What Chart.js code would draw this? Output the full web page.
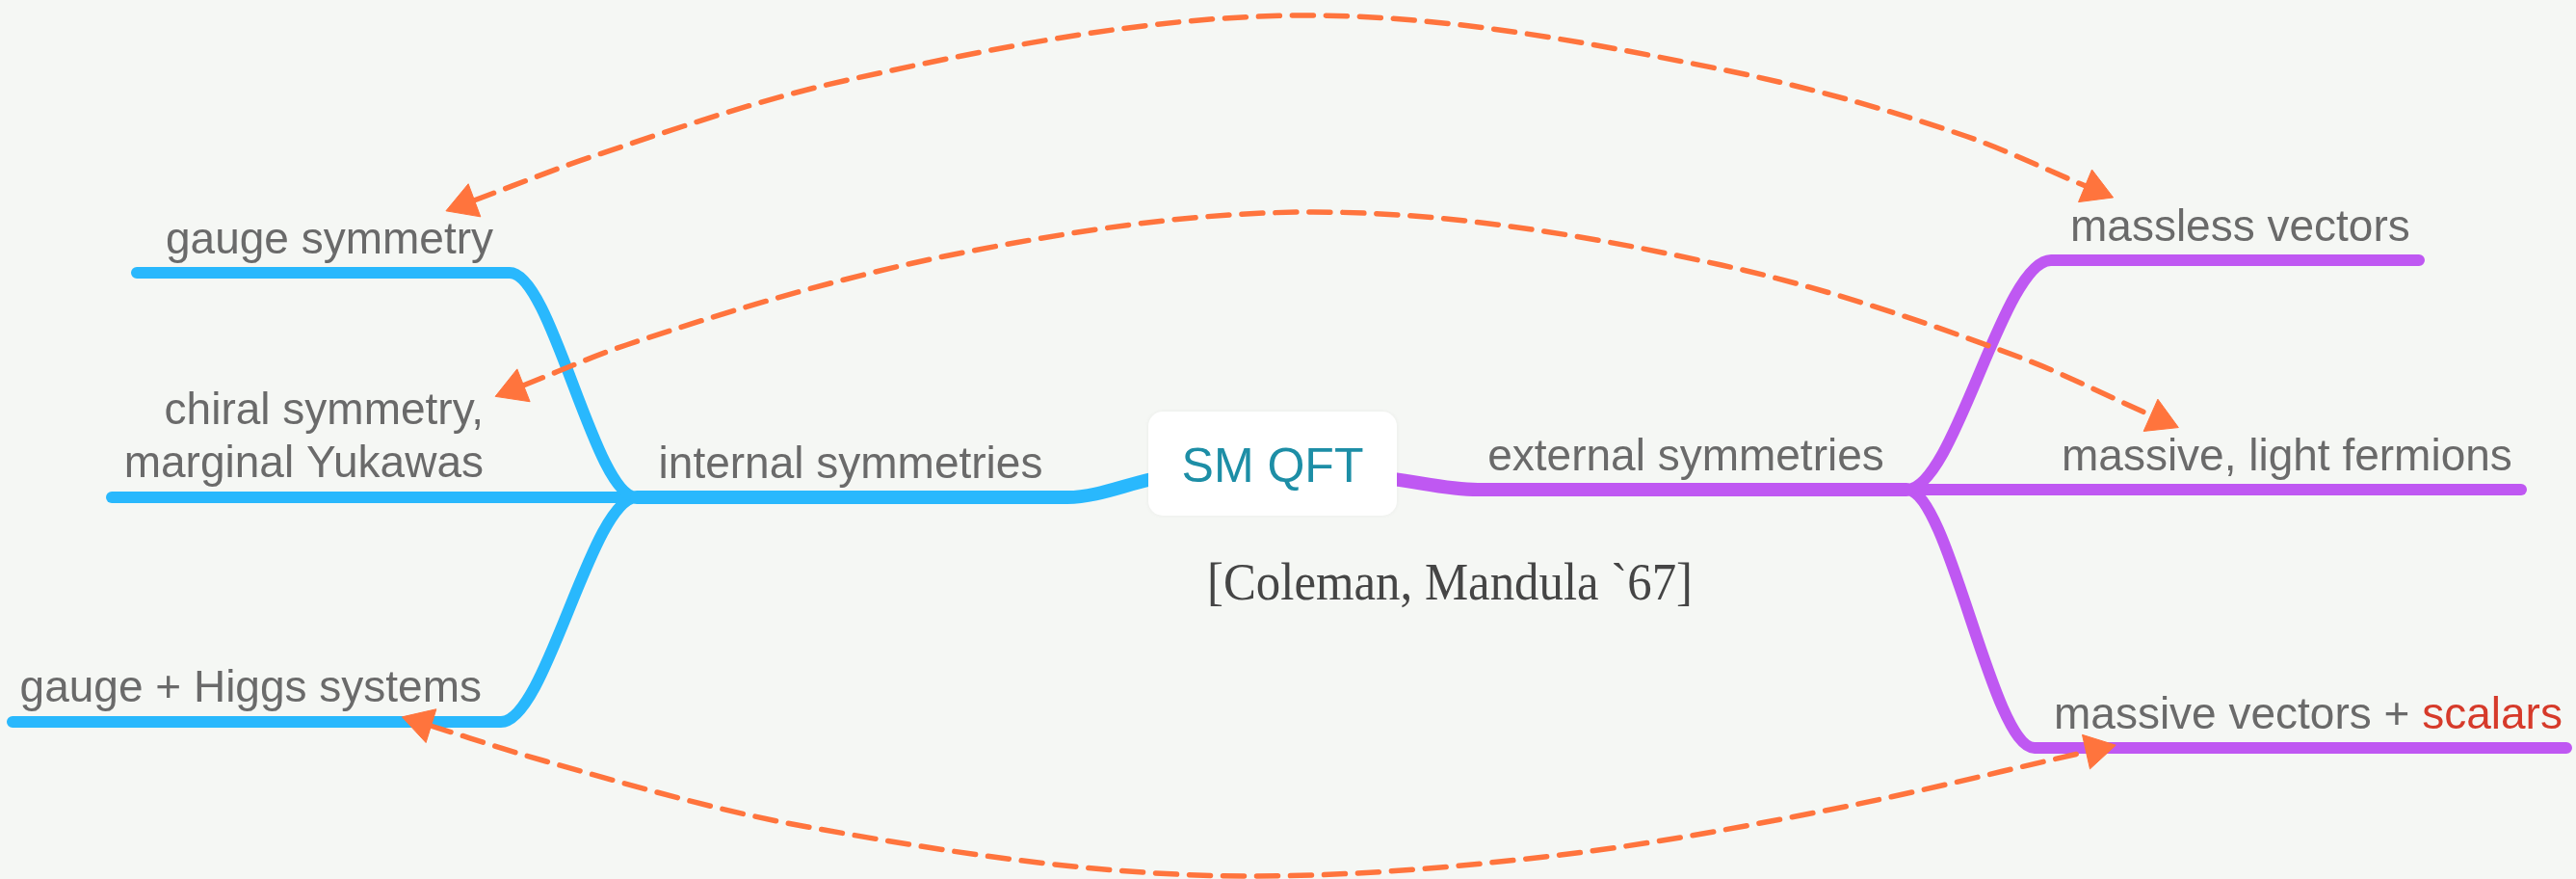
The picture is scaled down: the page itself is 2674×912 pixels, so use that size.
<!DOCTYPE html>
<html>
<head>
<meta charset="utf-8">
<script src="https://cdn.jsdelivr.net/npm/chart.js@4.4.0/dist/chart.umd.min.js"></script>
<style>
  html, body { margin: 0; padding: 0; background: #f5f7f4; overflow: hidden; }
  #wrap { width: 2674px; height: 912px; }
</style>
</head>
<body>
<div id="wrap"><canvas id="map" width="2674" height="912"></canvas></div>
<script>
// diagram units: 1 unit = 1 px, y grows downwards
var centreTopic = 'SM QFT';
var centreBox = [1192, 427, 1450, 535];
var citation = '[Coleman, Mandula `67]';
var citationAt = [1505, 622];

// main branches
var internalPath = [[661, 516], [1108, 516], [1196, 497]];
var externalPath = [[1446, 497], [1534, 508], [1979, 508]];

// sub topics (left: internal, right: external)
var gaugePath    = [[142, 283], [529, 283], [661, 516], [700, 516]];
var chiralPath   = [[116, 516], [661, 516]];
var higgsPath    = [[13, 749], [520, 749], [661, 516], [700, 516]];
var masslessPath = [[1940, 508], [1979, 508], [2129, 270], [2511, 270]];
var fermionPath  = [[1979, 508], [2617, 508]];
var massivePath  = [[1940, 508], [1979, 508], [2112, 776], [2664, 776]];

// topic titles, anchor point on the baseline
var titles  = ['internal symmetries', 'external symmetries', 'gauge symmetry', 'chiral symmetry,', 'marginal Yukawas',
               'gauge + Higgs systems', 'massless vectors', 'massive, light fermions', 'massive vectors + '];
var titleX  = [883, 1750, 512, 502, 502, 500, 2149, 2140, 2132];
var titleY  = [496, 488, 263, 440, 495, 728, 250, 488, 756];
var titleAl = ['center', 'center', 'right', 'right', 'right', 'right', 'left', 'left', 'left'];
var highlight = 'scalars';

// relationship arrows (dashed, heads at both ends)
var linkGaugeMassless = [[492, 208], [613, 163], [880, 83], [1357, 16], [1787, 72], [2040, 141], [2165, 193]];
var linkChiralFermion = [[543, 400], [650, 358], [1000, 262], [1363, 220], [1787, 275], [2100, 372], [2233, 431]];
var linkHiggsMassive  = [[447, 753], [567, 790], [833, 857], [1300, 909], [1620, 887], [1900, 840], [2166, 780]];

var BLUE = '#29b8fd', PURPLE = '#bf58f2', ORANGE = '#ff743d', GREY = '#6a6a6a', RED = '#d63a2a', TEAL = '#1d8ea6';

function pts(a) {
  return a.map(function (p) { return { x: p[0], y: p[1] }; });
}

function branch(path, color, w) {
  return {
    data: pts(path), showLine: true, borderColor: color, borderWidth: w,
    cubicInterpolationMode: 'monotone', borderCapStyle: 'round', borderJoinStyle: 'round',
    pointRadius: 0, fill: false
  };
}

function link(path) {
  return {
    data: pts(path), showLine: true, borderColor: ORANGE, borderWidth: 5.5,
    borderDash: [22, 13], borderCapStyle: 'round', cubicInterpolationMode: 'monotone',
    pointRadius: 0, fill: false
  };
}

// arrow heads sit just past each end, pointing along the last piece of the link
var heads = [];
function headAt(end, prev) {
  var dx = end[0] - prev[0], dy = end[1] - prev[1];
  var len = Math.hypot(dx, dy);
  heads.push({ x: end[0] + dx / len * 10, y: end[1] + dy / len * 10, rot: Math.atan2(dx, -dy) * 180 / Math.PI });
}
[linkGaugeMassless, linkChiralFermion, linkHiggsMassive].forEach(function (p) {
  headAt(p[0], p[1]);
  headAt(p[p.length - 1], p[p.length - 2]);
});

var mapText = {
  id: 'mapText',
  beforeDraw: function (chart) {
    var ctx = chart.ctx;
    ctx.save();
    ctx.fillStyle = '#f5f7f4';
    ctx.fillRect(0, 0, chart.width, chart.height);
    ctx.restore();
  },
  afterDatasetsDraw: function (chart) {
    var ctx = chart.ctx, sx = chart.scales.x, sy = chart.scales.y;
    ctx.save();

    // centre topic
    var x0 = sx.getPixelForValue(centreBox[0]), y0 = sy.getPixelForValue(centreBox[1]);
    var x1 = sx.getPixelForValue(centreBox[2]), y1 = sy.getPixelForValue(centreBox[3]);
    ctx.shadowColor = 'rgba(0,0,0,0.05)';
    ctx.shadowBlur = 4;
    ctx.fillStyle = '#ffffff';
    ctx.beginPath();
    ctx.roundRect(x0, y0, x1 - x0, y1 - y0, 15);
    ctx.fill();
    ctx.shadowBlur = 0;
    ctx.fillStyle = TEAL;
    ctx.font = '50px "Liberation Sans", Arial, sans-serif';
    ctx.textAlign = 'center';
    ctx.textBaseline = 'alphabetic';
    ctx.fillText(centreTopic, (x0 + x1) / 2, y0 + 73);

    // titles
    ctx.font = '46px "Liberation Sans", Arial, sans-serif';
    ctx.fillStyle = GREY;
    var lastEnd = 0;
    titles.forEach(function (t, i) {
      ctx.textAlign = titleAl[i];
      var px = sx.getPixelForValue(titleX[i]);
      ctx.fillText(t, px, sy.getPixelForValue(titleY[i]));
      if (i === titles.length - 1) lastEnd = px + ctx.measureText(t).width;
    });
    ctx.textAlign = 'left';
    ctx.fillStyle = RED;
    ctx.fillText(highlight, lastEnd, sy.getPixelForValue(titleY[titles.length - 1]));

    // citation, a tall narrow serif
    ctx.font = '55px "Liberation Serif", "Times New Roman", serif';
    ctx.fillStyle = '#454545';
    ctx.textAlign = 'center';
    ctx.fillText(citation, sx.getPixelForValue(citationAt[0]), sy.getPixelForValue(citationAt[1]), 504);
    ctx.restore();
  }
};

new Chart(document.getElementById('map').getContext('2d'), {
  type: 'scatter',
  data: {
    datasets: [
      {
        data: heads, pointStyle: 'triangle', pointRadius: 21,
        pointRotation: heads.map(function (h) { return h.rot; }),
        pointBackgroundColor: ORANGE, pointBorderColor: ORANGE, pointBorderWidth: 1, showLine: false
      },
      link(linkGaugeMassless),
      link(linkChiralFermion),
      link(linkHiggsMassive),
      branch(internalPath, BLUE, 14),
      branch(externalPath, PURPLE, 14),
      branch(gaugePath, BLUE, 12),
      branch(chiralPath, BLUE, 12),
      branch(higgsPath, BLUE, 12),
      branch(masslessPath, PURPLE, 12),
      branch(fermionPath, PURPLE, 12),
      branch(massivePath, PURPLE, 12)
    ]
  },
  options: {
    responsive: false,
    devicePixelRatio: 1,
    animation: false,
    layout: { padding: 0, autoPadding: false },
    plugins: { legend: { display: false }, tooltip: { enabled: false } },
    events: [],
    scales: {
      x: { type: 'linear', min: 0, max: 2674, display: false },
      y: { type: 'linear', min: 0, max: 912, reverse: true, display: false }
    }
  },
  plugins: [mapText]
});
</script>
</body>
</html>
